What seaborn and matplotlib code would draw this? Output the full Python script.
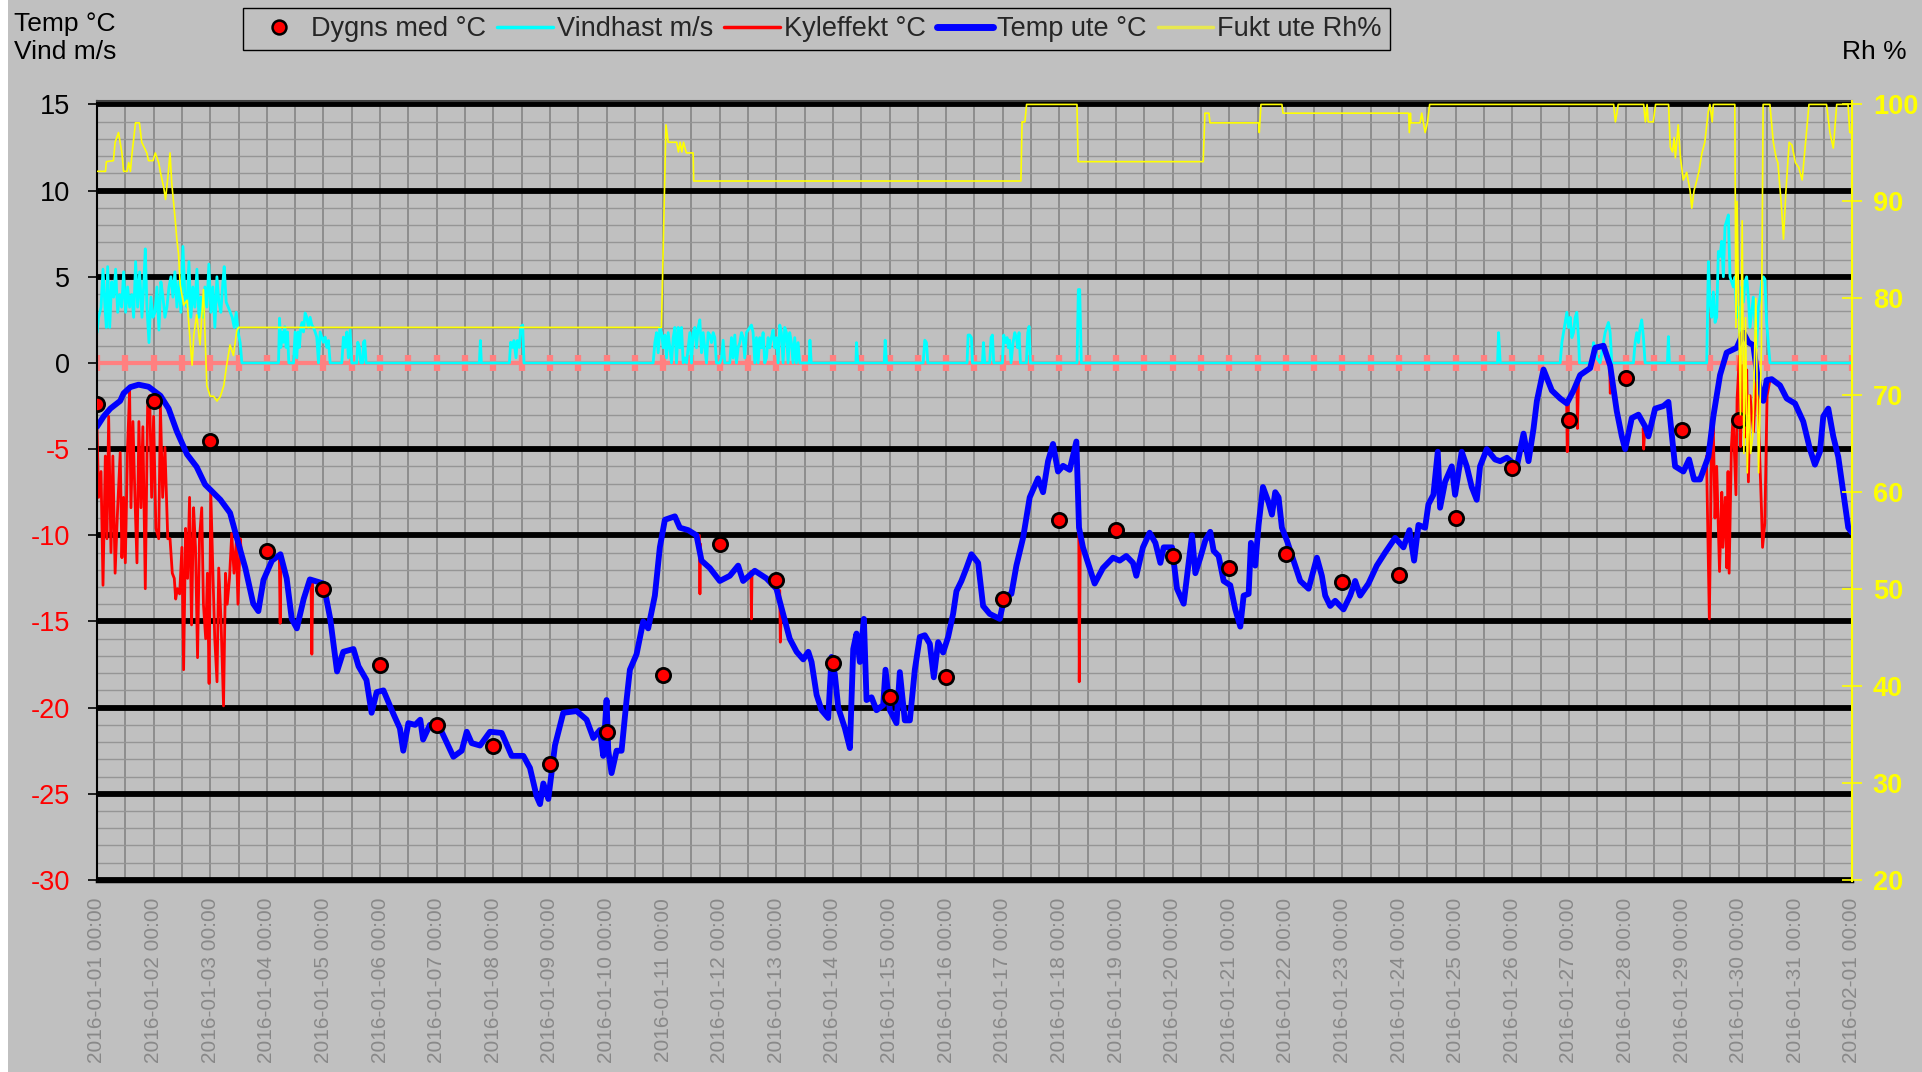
import numpy as np
import pandas as pd
import matplotlib
matplotlib.use("Agg")
import matplotlib.pyplot as plt
import matplotlib.dates as mdates
from matplotlib.ticker import MultipleLocator
from matplotlib.lines import Line2D
from matplotlib.patches import Rectangle
import seaborn as sns

START = pd.Timestamp("2016-01-01 00:00")

# -------------------------------
# 1. Data (x values are days after 2016-01-01 00:00)
# -------------------------------
mean_day = list(range(30))
mean_temp = [-2.4, -2.2, -4.5, -10.9, -13.1, -17.5, -21.0, -22.2, -23.3, -21.4,
             -18.1, -10.5, -12.6, -17.4, -19.4, -18.2, -13.7, -9.1, -9.7, -11.2,
             -11.9, -11.1, -12.7, -12.3, -9.0, -6.1, -3.3, -0.9, -3.9, -3.3]

temp_day = [0.0, 0.118, 0.235, 0.41, 0.47, 0.59, 0.735, 0.91, 1.12, 1.265, 1.41, 1.59, 1.76,
            1.91, 2.0, 2.18, 2.35, 2.47, 2.62, 2.76, 2.85, 2.94, 3.09, 3.24, 3.35, 3.44, 3.53,
            3.65, 3.76, 4.0, 4.12, 4.24, 4.35, 4.53, 4.62, 4.76, 4.85, 4.94, 5.06, 5.24, 5.35,
            5.41, 5.5, 5.62, 5.71, 5.76, 5.88, 6.0, 6.06, 6.295, 6.442, 6.531, 6.619, 6.766,
            6.942, 7.148, 7.325, 7.531, 7.648, 7.766, 7.825, 7.884, 7.972, 8.089, 8.236, 8.472,
            8.648, 8.766, 8.884, 8.942, 9.001, 9.031, 9.089, 9.178, 9.266, 9.354, 9.413, 9.531,
            9.648, 9.736, 9.854, 9.942, 10.031, 10.207, 10.295, 10.442, 10.589, 10.678, 10.825,
            11.001, 11.178, 11.325, 11.413, 11.619, 11.825, 12.001, 12.119, 12.236, 12.358,
            12.475, 12.564, 12.622, 12.711, 12.799, 12.916, 12.975, 13.034, 13.093, 13.211,
            13.299, 13.358, 13.416, 13.475, 13.546, 13.593, 13.681, 13.769, 13.887, 13.928,
            14.005, 14.122, 14.181, 14.269, 14.358, 14.446, 14.534, 14.622, 14.711, 14.781,
            14.858, 14.946, 15.034, 15.122, 15.181, 15.269, 15.358, 15.446, 15.564, 15.652,
            15.769, 15.946, 16.034, 16.152, 16.24, 16.358, 16.475, 16.622, 16.711, 16.799,
            16.887, 16.975, 17.064, 17.181, 17.299, 17.346, 17.416, 17.534, 17.622, 17.769,
            17.946, 18.064, 18.181, 18.299, 18.358, 18.475, 18.593, 18.695, 18.783, 18.842,
            18.989, 19.077, 19.195, 19.283, 19.342, 19.401, 19.489, 19.577, 19.665, 19.724,
            19.812, 19.901, 20.018, 20.106, 20.195, 20.254, 20.342, 20.383, 20.459, 20.518,
            20.595, 20.695, 20.754, 20.812, 20.871, 20.93, 21.018, 21.136, 21.254, 21.401,
            21.548, 21.636, 21.695, 21.783, 21.871, 22.018, 22.136, 22.224, 22.312, 22.459,
            22.606, 22.754, 22.93, 23.077, 23.183, 23.265, 23.342, 23.459, 23.518, 23.606,
            23.683, 23.724, 23.812, 23.93, 23.989, 24.106, 24.195, 24.283, 24.371, 24.43,
            24.548, 24.695, 24.786, 24.904, 25.081, 25.198, 25.286, 25.375, 25.434, 25.551,
            25.698, 25.845, 25.963, 26.081, 26.198, 26.375, 26.463, 26.61, 26.728, 26.845,
            26.934, 26.993, 27.11, 27.228, 27.345, 27.404, 27.522, 27.669, 27.757, 27.875,
            28.022, 28.122, 28.21, 28.316, 28.463, 28.551, 28.669, 28.786, 28.963, 29.081,
            29.169, 29.257, 29.316, 29.375, 29.434, 29.492, 29.581, 29.728, 29.846, 29.993,
            30.139, 30.257, 30.345, 30.434, 30.493, 30.581, 30.669, 30.757, 30.846, 30.934, 31.0]
temp_val = [-3.7, -3.1, -2.65, -2.2, -1.76, -1.4, -1.26, -1.38, -1.9, -2.65, -3.97, -5.3, -6.03,
            -7.06, -7.35, -7.94, -8.7, -10.15, -11.9, -13.97, -14.4, -12.6, -11.47, -11.1, -12.5,
            -14.85, -15.4, -13.7, -12.56, -12.8, -14.85, -17.9, -16.76, -16.6, -17.6, -18.4,
            -20.3, -19.1, -19.0, -20.4, -21.2, -22.5, -20.9, -21.0, -20.7, -21.85, -21.0, -21.3,
            -21.2, -22.85, -22.5, -21.4, -22.06, -22.2, -21.4, -21.47, -22.8, -22.8, -23.5,
            -25.15, -25.6, -24.4, -25.3, -22.2, -20.3, -20.2, -20.7, -21.76, -21.3, -22.8,
            -19.56, -22.5, -23.8, -22.5, -22.5, -19.56, -17.8, -16.9, -15.0, -15.4, -13.5,
            -10.7, -9.1, -8.9, -9.56, -9.7, -10.0, -11.47, -11.9, -12.65, -12.35, -11.76,
            -12.65, -12.06, -12.5, -13.1, -14.56, -16.0, -16.76, -17.2, -16.76, -17.35, -19.26,
            -20.15, -20.6, -17.06, -18.1, -20.0, -21.2, -22.35, -16.6, -15.7, -17.35, -14.85,
            -19.56, -19.4, -20.15, -19.85, -17.8, -20.15, -20.9, -17.94, -20.74, -20.74, -17.8,
            -15.9, -15.8, -16.3, -18.24, -16.2, -16.8, -15.9, -14.56, -13.24, -12.65, -11.9,
            -11.1, -11.6, -14.1, -14.56, -14.85, -13.5, -13.4, -11.76, -10.15, -7.8, -6.7, -7.5,
            -5.7, -4.7, -6.3, -5.97, -6.2, -4.56, -9.56, -10.7, -11.9, -12.8, -11.9, -11.3,
            -11.47, -11.2, -11.6, -12.35, -10.7, -9.85, -10.44, -11.6, -10.7, -10.7, -13.1,
            -13.97, -11.6, -10.0, -12.2, -11.3, -10.3, -9.8, -10.9, -11.2, -12.65, -12.9, -14.3,
            -15.3, -13.5, -13.4, -10.44, -11.76, -9.4, -7.2, -8.1, -8.8, -7.5, -7.8, -9.56,
            -10.3, -11.47, -12.65, -13.1, -11.3, -12.35, -13.5, -14.1, -13.8, -14.3, -13.5,
            -12.65, -13.5, -12.8, -11.76, -11.0, -10.15, -10.7, -9.7, -11.47, -9.4, -9.56, -8.2,
            -7.65, -5.15, -8.4, -6.9, -6.0, -7.65, -5.15, -6.0, -7.2, -7.94, -6.0, -5.0, -5.6,
            -5.7, -5.5, -6.0, -4.1, -5.7, -3.8, -2.2, -0.38, -1.6, -2.06, -2.35, -1.6, -0.7,
            -0.3, 0.88, 1.0, -0.15, -2.8, -4.26, -5.0, -3.2, -3.0, -3.68, -4.26, -2.65, -2.5,
            -2.26, -6.0, -6.3, -5.6, -6.76, -6.76, -5.44, -3.1, -0.7, 0.6, 0.88, 1.76, 1.2,
            1.03, -0.44, -1.6, -2.2, -1.0, -0.94, -1.3, -2.06, -2.35, -3.4, -5.0, -5.9, -5.15,
            -3.1, -2.65, -4.26, -5.44, -7.5, -9.56, -9.85]

kyl_day = [0.0, 0.029, 0.071, 0.106, 0.147, 0.176, 0.206, 0.247, 0.28, 0.32, 0.365, 0.41, 0.44,
           0.47, 0.5, 0.54, 0.576, 0.6, 0.635, 0.67, 0.706, 0.74, 0.776, 0.81, 0.853, 0.894,
           0.93, 0.965, 1.0, 1.04, 1.09, 1.12, 1.16, 1.2, 1.25, 1.29, 1.33, 1.365, 1.39, 1.42,
           1.46, 1.5, 1.53, 1.565, 1.6, 1.635, 1.67, 1.706, 1.74, 1.776, 1.81, 1.85, 1.88, 1.92,
           1.95, 1.98, 2.01, 2.05, 2.08, 2.12, 2.15, 2.19, 2.235, 2.27, 2.3, 2.34, 2.38, 2.42,
           2.46, 2.49, 2.53, 2.56,
           3.22, 3.235, 3.25,
           3.78, 3.795, 3.81,
           10.64, 10.65, 10.66,
           11.55, 11.56, 11.57,
           12.06, 12.07, 12.09,
           17.34, 17.35, 17.37,
           25.96, 25.97, 25.99,
           26.14, 26.15, 26.17,
           26.72, 26.73, 26.75,
           27.31, 27.32, 27.34,
           28.43, 28.48, 28.52, 28.55, 28.58, 28.61, 28.66, 28.7, 28.72, 28.76, 28.79, 28.81,
           28.83, 28.87, 28.9, 28.95, 28.97, 29.01, 29.03, 29.06, 29.11, 29.14, 29.17, 29.2,
           29.26, 29.31, 29.34, 29.4, 29.42, 29.46, 29.5, 29.55]
kyl_val = [-3.7, -7.8, -6.3, -12.9, -5.4, -10.2, -3.1, -11.0, -5.4, -12.2, -8.4, -5.2, -11.3,
           -7.8, -11.6, -4.9, -1.6, -8.4, -3.4, -7.8, -11.6, -3.4, -8.4, -3.7, -13.1, -2.5, -1.9,
           -7.8, -3.1, -9.6, -10.2, -2.5, -7.8, -4.9, -10.2, -10.2, -12.2, -12.5, -13.7, -13.1,
           -13.4, -10.7, -17.8, -9.6, -12.5, -7.8, -15.2, -8.4, -10.7, -17.1, -10.2, -8.4,
           -14.0, -16.0, -12.2, -18.6, -7.5, -12.5, -16.0, -18.5, -11.9, -14.9, -19.9, -12.2,
           -14.0, -12.5, -9.9, -12.2, -10.4, -14.0, -10.2, -11.3,
           -11.1, -15.1, -11.3,
           -12.6, -16.9, -12.7,
           -10.0, -13.4, -10.5,
           -12.1, -14.85, -12.2,
           -13.2, -16.2, -14.0,
           -7.0, -18.5, -10.0,
           -2.3, -5.15, -2.4,
           -1.0, -3.8, -0.9,
           -0.1, -1.76, -0.5,
           -3.8, -5.0, -3.9,
           -5.4, -14.85, -5.0, -3.7, -9.0, -6.0, -12.1, -7.5, -10.7, -7.8, -11.9, -6.3, -12.2,
           -4.85, -3.1, -7.65, -2.1, 0.4, -4.85, -0.15, -4.3, -0.4, -6.9, -1.9, -4.0, -0.5,
           -2.5, -8.4, -10.7, -9.3, -1.9, -1.0]
kyl_seg = [0] * 72 + [1] * 3 + [2] * 3 + [3] * 3 + [4] * 3 + [5] * 3 + [6] * 3 + [7] * 3 + \
          [8] * 3 + [9] * 3 + [10] * 3 + [11] * 32

wind_day = [0.0, 0.029, 0.071, 0.106, 0.141, 0.165, 0.188, 0.224, 0.259, 0.294, 0.329, 0.365,
            0.4, 0.435, 0.471, 0.506, 0.541, 0.576, 0.612, 0.647, 0.682, 0.718, 0.753, 0.794,
            0.824, 0.853, 0.882, 0.918, 0.953, 0.988, 1.024, 1.059, 1.094, 1.129, 1.165, 1.2,
            1.235, 1.271, 1.306, 1.341, 1.376, 1.412, 1.447, 1.482, 1.518, 1.553, 1.588, 1.624,
            1.659, 1.694, 1.729, 1.765, 1.8, 1.835, 1.871, 1.906, 1.941, 1.976, 2.012, 2.047,
            2.082, 2.118, 2.153, 2.188, 2.224, 2.247, 2.282, 2.318, 2.353, 2.388, 2.424, 2.459,
            2.494, 2.529, 2.559,
            3.206, 3.224, 3.247, 3.271, 3.294, 3.318, 3.341, 3.365, 3.388,
            3.471, 3.5, 3.529, 3.553, 3.576, 3.6, 3.624, 3.647, 3.676, 3.706, 3.735, 3.765,
            3.794, 3.824, 3.853, 3.882, 3.912, 3.941, 3.971, 4.0, 4.029, 4.059, 4.088, 4.118,
            4.324, 4.353, 4.382, 4.412, 4.441, 4.471, 4.5,
            4.588, 4.606, 4.635, 4.659, 4.694, 4.706, 4.729, 4.753,
            6.754, 6.772, 6.789,
            7.284, 7.307, 7.342, 7.366, 7.401, 7.425, 7.46, 7.484, 7.519, 7.542,
            9.824, 9.854, 9.884, 9.913, 9.942, 9.972, 10.001, 10.031, 10.06, 10.089, 10.119,
            10.148, 10.178, 10.207, 10.236, 10.266, 10.295, 10.325, 10.354, 10.384, 10.413,
            10.442, 10.472, 10.501, 10.531, 10.56, 10.589, 10.619, 10.648, 10.678, 10.707,
            10.736, 10.766, 10.795, 10.825, 10.854, 10.884, 10.913, 10.942, 11.001, 11.031,
            11.06, 11.089, 11.178, 11.207, 11.236, 11.266, 11.295, 11.325, 11.354, 11.384,
            11.413, 11.442, 11.472, 11.501, 11.531, 11.56, 11.589, 11.619, 11.648, 11.678,
            11.707, 11.736, 11.766, 11.795, 11.825, 11.854, 11.884, 11.913, 11.942, 11.972,
            12.001, 12.031, 12.06, 12.089, 12.119, 12.148, 12.178, 12.207, 12.236, 12.266,
            12.295, 12.325, 12.354, 12.384, 12.413,
            12.581, 12.593, 12.616,
            13.405, 13.416, 13.44,
            13.905, 13.922, 13.946,
            14.593, 14.622, 14.652, 14.675,
            15.369, 15.387, 15.416, 15.446, 15.464,
            15.64, 15.658, 15.681,
            15.769, 15.793, 15.816, 15.84,
            15.993, 16.016, 16.052, 16.075, 16.099, 16.122, 16.146, 16.181, 16.211, 16.24,
            16.264, 16.287, 16.311,
            16.416, 16.44, 16.464, 16.487,
            17.311, 17.334, 17.358, 17.387,
            24.739, 24.757, 24.786,
            25.845, 25.875, 25.904, 25.934, 25.963, 25.992, 26.022, 26.051, 26.081, 26.11,
            26.139, 26.169, 26.186,
            26.404, 26.434, 26.463, 26.492, 26.551, 26.639, 26.669, 26.698, 26.728, 26.757,
            27.139, 27.169, 27.198, 27.228, 27.257, 27.286, 27.316, 27.345,
            27.739, 27.757, 27.775,
            28.434, 28.463, 28.492, 28.522, 28.551, 28.581, 28.61, 28.639, 28.669, 28.698,
            28.728, 28.757, 28.786, 28.816, 28.845, 28.875, 28.904, 28.934, 28.963, 28.992,
            29.022, 29.051, 29.081, 29.11, 29.139, 29.169, 29.198, 29.228, 29.257, 29.287,
            29.316, 29.346, 29.375, 29.404, 29.434, 29.463, 29.492, 29.522, 29.551,
            31.0]
wind_val = [1.76, 2.65, 3.24, 5.44, 3.24, 2.06, 5.59, 2.06, 4.71, 3.82, 5.44, 2.94, 3.97, 3.24,
            5.29, 2.94, 4.41, 3.24, 3.97, 2.65, 5.88, 3.24, 5.29, 2.65, 4.41, 6.62, 3.24, 1.18,
            3.82, 2.65, 2.94, 4.41, 1.91, 4.71, 3.82, 2.65, 3.24, 4.41, 5.0, 3.82, 5.29, 3.24,
            4.71, 2.94, 6.76, 3.82, 3.24, 5.88, 2.65, 4.41, 3.24, 5.44, 2.65, 3.82, 2.65, 4.41,
            3.24, 5.74, 2.94, 4.41, 2.06, 5.0, 3.53, 2.94, 4.71, 5.59, 3.53, 3.24, 2.94, 2.65,
            2.06, 2.94, 1.76, 1.18, 0.0,
            0.0, 2.6, 0.9, 1.8, 1.2, 2.1, 0.9, 1.8, 0.0,
            0.0, 1.8, 0.3, 1.8, 0.9, 2.1, 2.35, 1.8, 2.9, 2.65, 2.06, 2.65, 2.2, 2.06, 1.8,
            1.5, 0.0, 1.8, 1.5, 1.2, 1.5, 0.9, 1.3, 0.0,
            0.0, 1.5, 0.9, 1.8, 0.3, 1.9, 0.0,
            0.0, 1.2, 0.9, 0.0, 0.0, 1.2, 1.3, 0.0,
            0.0, 1.3, 0.0,
            0.0, 1.2, 0.9, 1.3, 0.3, 1.3, 0.9, 2.1, 2.2, 0.0,
            0.0, 1.18, 1.76, 0.59, 2.06, 1.76, 0.88, 1.62, 0.29, 1.76, 0.88, 0.0, 1.47, 2.06,
            0.0, 2.06, 0.88, 2.06, 0.0, 0.29, 0.0, 0.88, 1.76, 0.0, 1.76, 2.06, 0.88, 2.06,
            2.5, 0.59, 1.76, 0.88, 0.0, 1.76, 1.62, 1.18, 1.76, 1.47, 0.0, 0.0, 0.29, 1.32,
            0.0, 0.0, 1.47, 0.29, 1.62, 0.0, 0.88, 1.18, 1.76, 1.47, 0.29, 1.76, 1.91, 2.06,
            2.2, 1.76, 0.0, 1.47, 0.0, 1.47, 0.88, 1.76, 0.0, 0.29, 1.47, 0.88, 1.47, 1.91,
            0.88, 1.47, 0.0, 2.2, 1.76, 0.0, 2.06, 1.76, 0.0, 1.76, 1.18, 0.0, 1.47, 0.0, 1.18,
            0.0,
            0.0, 1.32, 0.0,
            0.0, 1.18, 0.0,
            0.0, 1.32, 0.0,
            0.0, 1.32, 1.18, 0.0,
            0.0, 1.62, 1.62, 1.47, 0.0,
            0.0, 1.18, 0.0,
            0.0, 1.47, 1.62, 0.0,
            0.0, 1.62, 1.18, 1.47, 0.88, 1.32, 0.0, 1.18, 1.76, 1.47, 0.88, 1.76, 0.0,
            0.0, 1.76, 2.12, 0.0,
            0.0, 4.26, 4.26, 0.0,
            0.0, 1.76, 0.0,
            0.0, 1.18, 1.76, 2.35, 2.94, 2.06, 2.65, 1.47, 1.76, 2.65, 2.94, 1.47, 0.0,
            0.0, 1.18, 0.88, 0.29, 0.0, 1.76, 2.06, 2.35, 1.76, 0.0,
            0.0, 1.18, 1.76, 1.18, 2.06, 2.5, 1.47, 0.0,
            0.0, 1.53, 0.0,
            0.0, 5.88, 3.53, 2.65, 4.12, 2.35, 2.65, 6.47, 6.18, 7.06, 5.0, 7.94, 8.24, 8.59,
            5.0, 4.71, 4.41, 5.0, 2.65, 3.24, 1.76, 4.41, 3.53, 4.71, 5.0, 3.82, 2.06, 2.94,
            3.82, 2.35, 0.88, 3.24, 3.82, 4.71, 5.0, 4.85, 2.35, 1.18, 0.0,
            0.0]

rh_day = [0.0, 0.15, 0.165, 0.29, 0.32, 0.38, 0.44, 0.47, 0.53, 0.56, 0.59, 0.62, 0.68, 0.75,
          0.79, 0.88, 0.91, 0.99, 1.03, 1.09, 1.12, 1.18, 1.21, 1.25, 1.29, 1.32, 1.38, 1.41,
          1.44, 1.47, 1.53, 1.59, 1.65, 1.68, 1.71, 1.76, 1.82, 1.88, 1.94, 2.0, 2.06, 2.12,
          2.18, 2.24, 2.29, 2.35, 2.41, 2.47, 2.5, 9.97, 10.05, 10.09, 10.24, 10.27, 10.3,
          10.33, 10.36, 10.41, 10.53, 10.54, 16.32, 16.34, 16.39, 16.42, 17.31, 17.33, 19.54,
          19.57, 19.64, 19.66, 20.52, 20.53, 20.56, 20.93, 20.95, 23.17, 23.18, 23.2, 23.21,
          23.37, 23.4, 23.46, 23.5, 23.54, 26.79, 26.82, 26.85, 26.87, 27.32, 27.35, 27.38,
          27.4, 27.49, 27.53, 27.76, 27.79, 27.83, 27.86, 27.88, 27.93, 27.97, 28.02, 28.08,
          28.14, 28.17, 28.21, 28.26, 28.3, 28.35, 28.4, 28.46, 28.49, 28.53, 28.55, 28.93,
          28.95, 28.97, 29.0, 29.03, 29.06, 29.09, 29.12, 29.15, 29.18, 29.21, 29.25, 29.3,
          29.35, 29.4, 29.43, 29.55, 29.61, 29.66, 29.69, 29.75, 29.79, 29.83, 29.89, 29.94,
          30.0, 30.06, 30.12, 30.18, 30.24, 30.55, 30.61, 30.67, 30.73, 30.93, 30.96, 31.0]
rh_val = [93.1, 93.1, 94.1, 94.2, 96.1, 97.1, 95.0, 93.1, 93.1, 94.0, 93.1, 95.0, 98.1, 98.1,
          96.1, 95.0, 94.2, 94.2, 95.0, 94.0, 93.0, 91.4, 90.2, 92.4, 95.0, 91.9, 88.2, 86.1,
          84.6, 81.4, 79.3, 79.8, 75.2, 73.1, 76.2, 78.3, 75.2, 80.9, 71.0, 69.9, 69.9, 69.4,
          69.9, 71.0, 73.1, 75.2, 74.1, 76.7, 77.0, 77.0, 97.9, 96.1, 96.1, 95.1, 96.1, 95.1,
          96.1, 95.0, 95.0, 92.1, 92.1, 98.2, 98.2, 100.0, 100.0, 94.1, 94.1, 99.1, 99.1, 98.1,
          98.1, 97.1, 100.0, 100.0, 99.1, 99.1, 97.1, 99.1, 98.1, 98.1, 99.1, 97.1, 98.1,
          100.0, 100.0, 98.2, 99.2, 100.0, 100.0, 98.2, 100.0, 98.2, 98.2, 100.0, 100.0, 95.6,
          95.1, 96.6, 94.5, 97.9, 94.5, 92.2, 93.0, 91.1, 89.3, 91.1, 92.2, 93.2, 95.0, 96.1,
          99.2, 100.0, 98.2, 100.0, 100.0, 77.0, 90.0, 78.0, 68.0, 88.0, 64.0, 78.0, 62.0,
          70.0, 64.0, 66.0, 80.0, 62.0, 75.0, 100.0, 100.0, 96.1, 94.5, 94.0, 89.8, 86.1,
          90.8, 96.1, 95.8, 94.0, 93.5, 92.2, 96.1, 100.0, 100.0, 97.1, 95.5, 100.0, 100.0,
          97.1, 97.1]

temp_ticks = [15, 10, 5, 0, -5, -10, -15, -20, -25, -30]
rh_ticks = [100, 90, 80, 70, 60, 50, 40, 30, 20]
thick_levels = [15, 10, 5, -5, -10, -15, -20, -25, -30]


def stamp(days):
    return START + pd.to_timedelta(np.asarray(days, dtype=float), unit="D")


# -------------------------------
# 2. Style
# -------------------------------
sns.set_theme(style="white")
plt.rcParams["font.family"] = ["Liberation Sans", "DejaVu Sans"]

BG = "#c0c0c0"
fig = plt.figure(figsize=(19.22, 10.72), dpi=100, facecolor=BG)
fig.add_artist(Rectangle((0, 0), 8 / 1922, 1, transform=fig.transFigure,
                         facecolor="white", edgecolor="none", zorder=0))
ax = fig.add_axes([97 / 1922, 1 - 881 / 1072, 1755 / 1922, 780 / 1072])
ax.set_facecolor(BG)
ax.set_axisbelow(True)
ax2 = ax.twinx()

# -------------------------------
# 3. Series
# -------------------------------
half_days = pd.date_range(START, periods=63, freq="12h")
sns.lineplot(x=half_days, y=np.zeros(len(half_days)), ax=ax, color="#ff8080", lw=3,
             marker="|", markersize=12, markeredgewidth=4.5, markeredgecolor="#ff8080",
             sort=False, estimator=None)
sns.lineplot(x=stamp(wind_day), y=wind_val, ax=ax, color="#00ffff", lw=2.0,
             sort=False, estimator=None)
sns.lineplot(x=stamp(kyl_day), y=kyl_val, units=kyl_seg, ax=ax, color="#ff0000", lw=2.0,
             sort=False, estimator=None)
sns.lineplot(x=stamp(temp_day), y=temp_val, ax=ax, color="#0000ff", lw=4.2,
             sort=False, estimator=None)
sns.scatterplot(x=stamp(mean_day), y=mean_temp, ax=ax, color="#ff0000", s=105,
                edgecolor="black", linewidth=2.0, zorder=10)
sns.lineplot(x=stamp(rh_day), y=rh_val, ax=ax2, color="#ffff00", lw=1.2,
             sort=False, estimator=None)

for lev in thick_levels:
    ax.axhline(lev, color="black", lw=4.2, zorder=1.5)

# -------------------------------
# 4. Axes
# -------------------------------
ax.set_xlim(START, START + pd.Timedelta(days=31))
ax.set_ylim(-30.06, 15.2)
ax2.set_ylim(20 + (-30.06 + 30) * 80 / 45, 20 + (15.2 + 30) * 80 / 45)
ax.set_xlabel("")
ax.set_ylabel("")
ax2.set_xlabel("")
ax2.set_ylabel("")

ax.xaxis.set_major_locator(mdates.DayLocator())
ax.xaxis.set_minor_locator(mdates.HourLocator(byhour=[12]))
ax.xaxis.set_major_formatter(mdates.DateFormatter("%Y-%m-%d %H:%M"))
ax.grid(which="both", axis="x", color="#858585", lw=1.2)
ax.yaxis.set_minor_locator(MultipleLocator(1))
ax.grid(which="minor", axis="y", color="#959595", lw=1.0)
ax.grid(which="major", axis="y", visible=False)

ax.set_yticks(temp_ticks, labels=[str(v) for v in temp_ticks])
for lab, v in zip(ax.get_yticklabels(), temp_ticks):
    lab.set_color("black" if v >= 0 else "#ff0000")
ax.tick_params(axis="y", which="major", left=True, direction="out", length=6.5, width=1.2,
               color="black", pad=13, labelsize=19.5)
ax.tick_params(axis="y", which="minor", left=False, right=False)
ax.tick_params(axis="x", which="both", length=0, bottom=False)
ax.tick_params(axis="x", which="major", pad=12, labelsize=15, labelcolor="#888888",
               labelrotation=90)

ax2.set_yticks(rh_ticks, labels=[str(v) for v in rh_ticks])
ax2.tick_params(axis="y", right=True, direction="inout", length=14, width=1.2,
                color="#ffff00", labelcolor="#ffff00", labelsize=19.5, pad=8)
for lab in ax2.get_yticklabels():
    lab.set_fontweight("bold")
ax2.grid(False)

ax.spines["left"].set_color("black")
ax.spines["left"].set_linewidth(1.5)
ax.spines["bottom"].set_color("black")
ax.spines["bottom"].set_linewidth(2.5)
ax.spines["top"].set_color("#404040")
ax.spines["top"].set_linewidth(1.5)
ax.spines["right"].set_visible(False)
for side in ["left", "top", "bottom"]:
    ax2.spines[side].set_visible(False)
ax2.spines["right"].set_color("#ffff00")
ax2.spines["right"].set_linewidth(1.5)

# -------------------------------
# 5. Texts and legend
# -------------------------------
fig.text(14 / 1922, 1 - 12 / 1072, "Temp °C", ha="left", va="top", fontsize=19, color="black")
fig.text(14 / 1922, 1 - 40 / 1072, "Vind m/s", ha="left", va="top", fontsize=19, color="black")
fig.text(1907 / 1922, 1 - 40 / 1072, "Rh %", ha="right", va="top", fontsize=19, color="black")

handles = [
    Line2D([], [], ls="none", marker="o", markerfacecolor="#ff0000", markeredgecolor="black",
           markeredgewidth=1.8, markersize=10, label="Dygns med °C"),
    Line2D([], [], color="#00ffff", lw=2.5, label="Vindhast m/s"),
    Line2D([], [], color="#ff0000", lw=2.5, label="Kyleffekt °C"),
    Line2D([], [], color="#0000ff", lw=5, label="Temp ute °C"),
    Line2D([], [], color="#e8e850", lw=2.5, label="Fukt ute Rh%"),
]
leg = fig.legend(handles=handles, loc="upper left", bbox_to_anchor=(243 / 1922, 1 - 8 / 1072),
                 ncol=5, frameon=True, fancybox=False, edgecolor="black", facecolor=BG,
                 framealpha=1, fontsize=19.5, handlelength=2.05, handletextpad=0.15,
                 columnspacing=0.42, borderpad=0.3, borderaxespad=0)
leg.get_frame().set_linewidth(1.0)

fig.savefig("out.png", dpi=100, facecolor=BG)
